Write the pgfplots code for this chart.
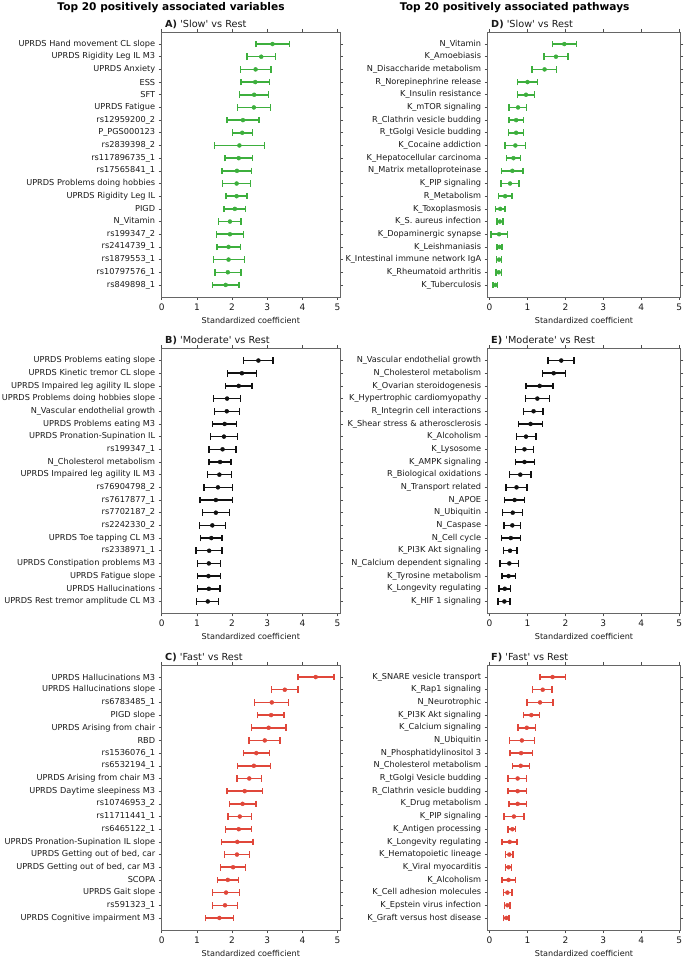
\documentclass[border=0pt]{standalone}
\usepackage{fontspec}
\setmainfont{DejaVu Sans}
\usepackage{pgfplots}
\usepackage{pgfplotstable}
\pgfplotsset{compat=1.18}

\definecolor{cgreen}{HTML}{3DAF3D}
\definecolor{cred}{HTML}{E0473A}
\definecolor{cblack}{HTML}{111111}

% columns: row index, coefficient, lower and upper end of the interval
\pgfplotstableread{
i c lo hi
0 3.15 2.68 3.63
1 2.83 2.43 3.23
2 2.67 2.24 3.11
3 2.66 2.26 3.07
4 2.63 2.22 3.04
5 2.62 2.16 3.09
6 2.31 1.86 2.77
7 2.29 2.01 2.58
8 2.21 1.50 2.92
9 2.19 1.80 2.58
10 2.14 1.72 2.56
11 2.13 1.73 2.53
12 2.13 1.83 2.42
13 2.08 1.77 2.39
14 1.94 1.62 2.26
15 1.94 1.56 2.32
16 1.90 1.57 2.24
17 1.90 1.47 2.35
18 1.88 1.51 2.26
19 1.82 1.45 2.20
}\tA
\pgfplotstableread{
i c lo hi
0 2.75 2.33 3.16
1 2.28 1.87 2.69
2 2.19 1.82 2.57
3 1.86 1.47 2.24
4 1.85 1.50 2.21
5 1.79 1.45 2.13
6 1.77 1.39 2.15
7 1.73 1.35 2.11
8 1.66 1.35 1.97
9 1.64 1.31 1.98
10 1.60 1.20 2.01
11 1.54 1.09 2.01
12 1.54 1.16 1.93
13 1.44 1.07 1.82
14 1.41 1.11 1.72
15 1.35 0.98 1.72
16 1.34 1.01 1.68
17 1.33 1.01 1.67
18 1.34 1.02 1.66
19 1.31 0.99 1.62
}\tB
\pgfplotstableread{
i c lo hi
0 4.38 3.87 4.90
1 3.50 3.13 3.88
2 3.13 2.64 3.61
3 3.11 2.72 3.48
4 3.04 2.55 3.53
5 2.93 2.48 3.36
6 2.69 2.33 3.06
7 2.62 2.16 3.09
8 2.49 2.14 2.83
9 2.36 1.86 2.86
10 2.30 1.92 2.68
11 2.22 1.88 2.55
12 2.19 1.82 2.55
13 2.15 1.70 2.60
14 2.14 1.78 2.50
15 2.03 1.68 2.38
16 1.88 1.58 2.18
17 1.83 1.45 2.22
18 1.80 1.45 2.16
19 1.64 1.24 2.04
}\tC
\pgfplotstableread{
i c lo hi
0 1.97 1.66 2.29
1 1.75 1.44 2.07
2 1.45 1.12 1.76
3 1.00 0.74 1.27
4 0.96 0.74 1.19
5 0.75 0.51 0.98
6 0.70 0.51 0.90
7 0.70 0.50 0.90
8 0.68 0.41 0.94
9 0.63 0.45 0.82
10 0.60 0.32 0.88
11 0.54 0.30 0.78
12 0.41 0.23 0.59
13 0.28 0.16 0.41
14 0.27 0.19 0.35
15 0.25 0.04 0.48
16 0.26 0.19 0.33
17 0.25 0.18 0.32
18 0.24 0.17 0.31
19 0.15 0.09 0.21
}\tD
\pgfplotstableread{
i c lo hi
0 1.89 1.54 2.23
1 1.69 1.39 2.00
2 1.32 0.96 1.67
3 1.26 0.95 1.58
4 1.16 0.90 1.41
5 1.08 0.76 1.39
6 0.96 0.71 1.22
7 0.92 0.68 1.16
8 0.92 0.68 1.18
9 0.81 0.53 1.09
10 0.71 0.43 0.99
11 0.66 0.40 0.92
12 0.61 0.34 0.87
13 0.60 0.38 0.82
14 0.56 0.32 0.81
15 0.54 0.37 0.72
16 0.52 0.27 0.76
17 0.50 0.33 0.68
18 0.40 0.25 0.55
19 0.39 0.22 0.54
}\tE
\pgfplotstableread{
i c lo hi
0 1.66 1.33 2.00
1 1.40 1.13 1.65
2 1.33 0.99 1.67
3 1.10 0.89 1.32
4 0.98 0.75 1.21
5 0.85 0.53 1.19
6 0.83 0.54 1.13
7 0.82 0.60 1.05
8 0.74 0.49 0.98
9 0.74 0.49 0.98
10 0.74 0.51 0.97
11 0.64 0.38 0.91
12 0.60 0.49 0.69
13 0.53 0.33 0.72
14 0.52 0.42 0.62
15 0.50 0.42 0.58
16 0.50 0.33 0.68
17 0.47 0.37 0.59
18 0.47 0.40 0.54
19 0.44 0.37 0.51
}\tF

\pgfplotsset{
  forest/.style={
    scale only axis, height=265pt,
    y dir=reverse, ymin=-0.95, ymax=19.95,
    ytick={0,...,19}, xtick={0,...,5},
    tick align=outside, major tick length=3pt,
    tick style={black!70, line width=0.6pt},
    axis line style={black!60, line width=0.8pt},
    yticklabel style={font=\fontsize{8.2}{9}\selectfont, text=black!90},
    xticklabel style={font=\fontsize{9}{10}\selectfont, text=black!90},
    /pgf/number format/assume math mode=true,
    xlabel={Standardized coefficient},
    xlabel style={font=\fontsize{8.1}{9}\selectfont, text=black!90},
    every axis title shift=0pt,
    title style={at={(0,1)}, anchor=base west, yshift=4.5pt,
      font=\fontsize{9.7}{11}\selectfont, text=black!90},
  },
  leftp/.style={forest, width=178.3pt, xmin=0, xmax=5.07},
  rightp/.style={forest, width=192.6pt, xmin=-0.05, xmax=5.03},
}

\newcommand{\ci}[2]{%
  \addplot[#1, only marks, mark=*, mark size=2pt,
    error bars/.cd, x dir=both, x explicit, error mark=|,
    error bar style={line width=1.5pt, #1},
    error mark options={line width=1.4pt, mark size=3.3pt, #1}]
  table[x=c, y=i,
    x error plus expr=\thisrow{hi}-\thisrow{c},
    x error minus expr=\thisrow{c}-\thisrow{lo}] {#2};
}

\begin{document}
\begin{tikzpicture}
\path[use as bounding box] (0pt,0pt) rectangle (685pt,958pt);

\node[anchor=base, font=\bfseries\fontsize{10.6}{12}\selectfont]
  at (171pt,947pt) {Top 20 positively associated variables};
\node[anchor=base, font=\bfseries\fontsize{10.6}{12}\selectfont]
  at (514.7pt,947pt) {Top 20 positively associated pathways};

% A
\begin{axis}[leftp, at={(161.7pt,926pt)}, anchor=north west,
  title={\textbf{A)} \textquotesingle Slow\textquotesingle\ vs Rest},
  yticklabels={{UPRDS Hand movement CL slope},{UPRDS Rigidity Leg IL M3},{UPRDS Anxiety},{ESS},{SFT},{UPRDS Fatigue},{rs12959200\_2},{P\_PGS000123},{rs2839398\_2},{rs117896735\_1},{rs17565841\_1},{UPRDS Problems doing hobbies},{UPRDS Rigidity Leg IL},{PIGD},{N\_Vitamin},{rs199347\_2},{rs2414739\_1},{rs1879553\_1},{rs10797576\_1},{rs849898\_1}}]
\ci{cgreen}{\tA}
\end{axis}

% B
\begin{axis}[leftp, at={(161.7pt,609.5pt)}, anchor=north west,
  title={\textbf{B)} \textquotesingle Moderate\textquotesingle\ vs Rest},
  yticklabels={{UPRDS Problems eating slope},{UPRDS Kinetic tremor CL slope},{UPRDS Impaired leg agility IL slope},{UPRDS Problems doing hobbies slope},{N\_Vascular endothelial growth},{UPRDS Problems eating M3},{UPRDS Pronation-Supination IL},{rs199347\_1},{N\_Cholesterol metabolism},{UPRDS Impaired leg agility IL M3},{rs76904798\_2},{rs7617877\_1},{rs7702187\_2},{rs2242330\_2},{UPRDS Toe tapping CL M3},{rs2338971\_1},{UPRDS Constipation problems M3},{UPRDS Fatigue slope},{UPRDS Hallucinations},{UPRDS Rest tremor amplitude CL M3}}]
\ci{cblack}{\tB}
\end{axis}

% C
\begin{axis}[leftp, at={(161.7pt,293pt)}, anchor=north west,
  title={\textbf{C)} \textquotesingle Fast\textquotesingle\ vs Rest},
  yticklabels={{UPRDS Hallucinations M3},{UPRDS Hallucinations slope},{rs6783485\_1},{PIGD slope},{UPRDS Arising from chair},{RBD},{rs1536076\_1},{rs6532194\_1},{UPRDS Arising from chair M3},{UPRDS Daytime sleepiness M3},{rs10746953\_2},{rs11711441\_1},{rs6465122\_1},{UPRDS Pronation-Supination IL slope},{UPRDS Getting out of bed, car},{UPRDS Getting out of bed, car M3},{SCOPA},{UPRDS Gait slope},{rs591323\_1},{UPRDS Cognitive impairment M3}}]
\ci{cred}{\tC}
\end{axis}

% D
\begin{axis}[rightp, at={(487.7pt,926pt)}, anchor=north west,
  title={\textbf{D)} \textquotesingle Slow\textquotesingle\ vs Rest},
  yticklabels={{N\_Vitamin},{K\_Amoebiasis},{N\_Disaccharide metabolism},{R\_Norepinephrine release},{K\_Insulin resistance},{K\_mTOR signaling},{R\_Clathrin vesicle budding},{R\_tGolgi Vesicle budding},{K\_Cocaine addiction},{K\_Hepatocellular carcinoma},{N\_Matrix metalloproteinase},{K\_PIP signaling},{R\_Metabolism},{K\_Toxoplasmosis},{K\_S. aureus infection},{K\_Dopaminergic synapse},{K\_Leishmaniasis},{K\_Intestinal immune network IgA},{K\_Rheumatoid arthritis},{K\_Tuberculosis}}]
\ci{cgreen}{\tD}
\end{axis}

% E
\begin{axis}[rightp, at={(487.7pt,609.5pt)}, anchor=north west,
  title={\textbf{E)} \textquotesingle Moderate\textquotesingle\ vs Rest},
  yticklabels={{N\_Vascular endothelial growth},{N\_Cholesterol metabolism},{K\_Ovarian steroidogenesis},{K\_Hypertrophic cardiomyopathy},{R\_Integrin cell interactions},{K\_Shear stress \& atherosclerosis},{K\_Alcoholism},{K\_Lysosome},{K\_AMPK signaling},{R\_Biological oxidations},{N\_Transport related},{N\_APOE},{N\_Ubiquitin},{N\_Caspase},{N\_Cell cycle},{K\_PI3K Akt signaling},{N\_Calcium dependent signaling},{K\_Tyrosine metabolism},{K\_Longevity regulating},{K\_HIF 1 signaling}}]
\ci{cblack}{\tE}
\end{axis}

% F
\begin{axis}[rightp, at={(487.7pt,293pt)}, anchor=north west,
  title={\textbf{F)} \textquotesingle Fast\textquotesingle\ vs Rest},
  yticklabels={{K\_SNARE vesicle transport},{K\_Rap1 signaling},{N\_Neurotrophic},{K\_PI3K Akt signaling},{K\_Calcium signaling},{N\_Ubiquitin},{N\_Phosphatidylinositol 3},{N\_Cholesterol metabolism},{R\_tGolgi Vesicle budding},{R\_Clathrin vesicle budding},{K\_Drug metabolism},{K\_PIP signaling},{K\_Antigen processing},{K\_Longevity regulating},{K\_Hematopoietic lineage},{K\_Viral myocarditis},{K\_Alcoholism},{K\_Cell adhesion molecules},{K\_Epstein virus infection},{K\_Graft versus host disease}}]
\ci{cred}{\tF}
\end{axis}
\end{tikzpicture}
\end{document}
